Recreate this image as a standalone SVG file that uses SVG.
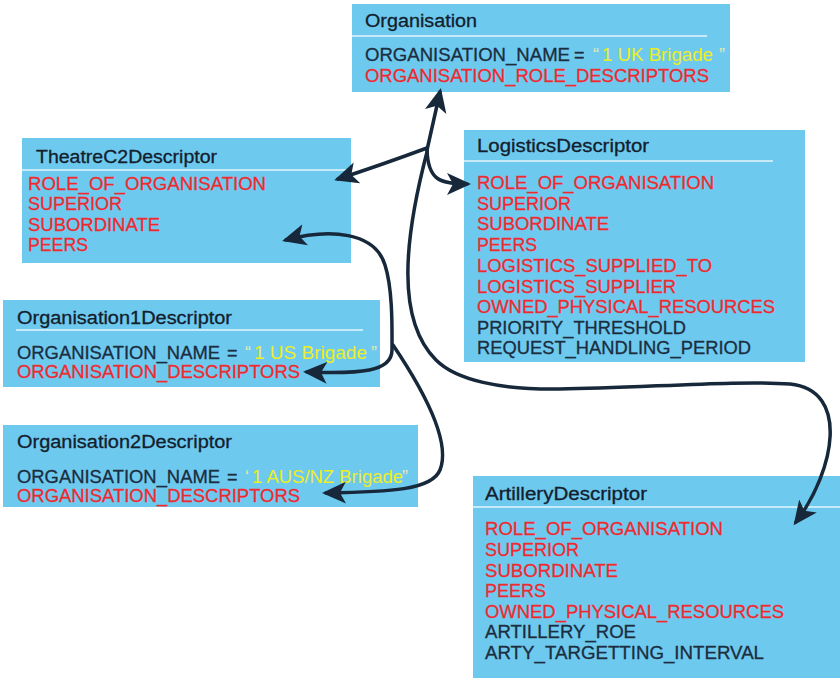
<svg xmlns="http://www.w3.org/2000/svg" width="840" height="678" viewBox="0 0 840 678">
<defs>
<style>
.box{fill:#6ec9ef}
.sep{stroke:#e6f5fc;stroke-width:1.5}
text{font-family:"Liberation Sans",Arial,sans-serif;font-size:18px}
.t{fill:#13202c;stroke:#13202c;stroke-width:0.3}
.d{fill:#1b2d3e;stroke:#1b2d3e;stroke-width:0.3}
.r{fill:#ee2a2f;stroke:#ee2a2f;stroke-width:0.3}
.y{fill:#eeee22}
.q{fill:#e4e8b4}
.c{fill:none;stroke:#16283a;stroke-width:3.5;stroke-linecap:round}
</style>
<marker id="ah" markerUnits="userSpaceOnUse" markerWidth="26" markerHeight="24" refX="20" refY="11" orient="auto-start-reverse" viewBox="0 0 26 24">
<path d="M0,0 L24,11 L0,22 L6,11 z" fill="#16283a"/>
</marker>
</defs>
<rect width="840" height="678" fill="#ffffff"/>

<g id="organisation">
<rect class="box" x="352" y="4" width="378" height="88"/>
<line class="sep" x1="352" y1="36" x2="707" y2="36"/>
<text class="t" x="365" y="27" textLength="112" lengthAdjust="spacingAndGlyphs">Organisation</text>
<text y="61"><tspan class="d" x="365" textLength="205" lengthAdjust="spacingAndGlyphs">ORGANISATION_NAME</tspan><tspan class="d" x="574">=</tspan><tspan class="q" x="593">“</tspan><tspan class="y" x="602" textLength="111" lengthAdjust="spacingAndGlyphs">1 UK Brigade</tspan><tspan class="q" x="719">”</tspan></text>
<text class="r" x="365" y="82" textLength="344" lengthAdjust="spacingAndGlyphs">ORGANISATION_ROLE_DESCRIPTORS</text>
</g>

<g id="theatre">
<rect class="box" x="22" y="138" width="329" height="125"/>
<line class="sep" x1="22" y1="170" x2="351" y2="170"/>
<text class="t" x="36" y="163" textLength="181" lengthAdjust="spacingAndGlyphs">TheatreC2Descriptor</text>
<text class="r" x="28" y="190" textLength="238" lengthAdjust="spacingAndGlyphs">ROLE_OF_ORGANISATION</text>
<text class="r" x="28" y="210" textLength="94" lengthAdjust="spacingAndGlyphs">SUPERIOR</text>
<text class="r" x="28" y="231" textLength="132" lengthAdjust="spacingAndGlyphs">SUBORDINATE</text>
<text class="r" x="28" y="251" textLength="60" lengthAdjust="spacingAndGlyphs">PEERS</text>
</g>

<g id="logistics">
<rect class="box" x="464" y="130" width="341" height="232"/>
<line class="sep" x1="464" y1="161" x2="773" y2="161"/>
<text class="t" x="477" y="152" textLength="172" lengthAdjust="spacingAndGlyphs">LogisticsDescriptor</text>
<text class="r" x="477" y="189" textLength="237" lengthAdjust="spacingAndGlyphs">ROLE_OF_ORGANISATION</text>
<text class="r" x="477" y="210" textLength="94" lengthAdjust="spacingAndGlyphs">SUPERIOR</text>
<text class="r" x="477" y="230" textLength="132" lengthAdjust="spacingAndGlyphs">SUBORDINATE</text>
<text class="r" x="477" y="251" textLength="60" lengthAdjust="spacingAndGlyphs">PEERS</text>
<text class="r" x="477" y="272" textLength="235" lengthAdjust="spacingAndGlyphs">LOGISTICS_SUPPLIED_TO</text>
<text class="r" x="477" y="293" textLength="199" lengthAdjust="spacingAndGlyphs">LOGISTICS_SUPPLIER</text>
<text class="r" x="477" y="313" textLength="298" lengthAdjust="spacingAndGlyphs">OWNED_PHYSICAL_RESOURCES</text>
<text class="d" x="477" y="334" textLength="209" lengthAdjust="spacingAndGlyphs">PRIORITY_THRESHOLD</text>
<text class="d" x="477" y="354" textLength="274" lengthAdjust="spacingAndGlyphs">REQUEST_HANDLING_PERIOD</text>
</g>

<g id="org1">
<rect class="box" x="3" y="300" width="377" height="87"/>
<line class="sep" x1="16" y1="330" x2="363" y2="330"/>
<text class="t" x="17" y="324" textLength="215" lengthAdjust="spacingAndGlyphs">Organisation1Descriptor</text>
<text y="359"><tspan class="d" x="17" textLength="203" lengthAdjust="spacingAndGlyphs">ORGANISATION_NAME</tspan><tspan class="d" x="227">=</tspan><tspan class="q" x="245">“</tspan><tspan class="y" x="254" textLength="113" lengthAdjust="spacingAndGlyphs">1 US Brigade</tspan><tspan class="q" x="371">”</tspan></text>
<text class="r" x="17" y="378" textLength="283" lengthAdjust="spacingAndGlyphs">ORGANISATION_DESCRIPTORS</text>
</g>

<g id="org2">
<rect class="box" x="3" y="425" width="415" height="82"/>
<text class="t" x="17" y="448" textLength="215" lengthAdjust="spacingAndGlyphs">Organisation2Descriptor</text>
<text y="483"><tspan class="d" x="17" textLength="203" lengthAdjust="spacingAndGlyphs">ORGANISATION_NAME</tspan><tspan class="d" x="227">=</tspan><tspan class="q" x="245">‘</tspan><tspan class="y" x="252" textLength="151" lengthAdjust="spacingAndGlyphs">1 AUS/NZ Brigade</tspan><tspan class="q" x="402">”</tspan></text>
<text class="r" x="17" y="502" textLength="283" lengthAdjust="spacingAndGlyphs">ORGANISATION_DESCRIPTORS</text>
</g>

<g id="artillery">
<rect class="box" x="473" y="476" width="367" height="202"/>
<line class="sep" x1="473" y1="507" x2="840" y2="507"/>
<text class="t" x="485" y="500" textLength="162" lengthAdjust="spacingAndGlyphs">ArtilleryDescriptor</text>
<text class="r" x="485" y="535" textLength="238" lengthAdjust="spacingAndGlyphs">ROLE_OF_ORGANISATION</text>
<text class="r" x="485" y="556" textLength="94" lengthAdjust="spacingAndGlyphs">SUPERIOR</text>
<text class="r" x="485" y="577" textLength="133" lengthAdjust="spacingAndGlyphs">SUBORDINATE</text>
<text class="r" x="485" y="597" textLength="61" lengthAdjust="spacingAndGlyphs">PEERS</text>
<text class="r" x="485" y="618" textLength="299" lengthAdjust="spacingAndGlyphs">OWNED_PHYSICAL_RESOURCES</text>
<text class="d" x="485" y="638" textLength="151" lengthAdjust="spacingAndGlyphs">ARTILLERY_ROE</text>
<text class="d" x="485" y="659" textLength="279" lengthAdjust="spacingAndGlyphs">ARTY_TARGETTING_INTERVAL</text>
</g>

<g id="connectors">
<path class="c" d="M427 150 L440 92" marker-end="url(#ah)"/>
<path class="c" d="M427 148 C400 158 372 168 338 179" marker-end="url(#ah)"/>
<path class="c" d="M427 150 C428 180 440 184 467 184" marker-end="url(#ah)"/>
<path class="c" d="M427 152 C404 240 396 320 436 360 C456 380 500 390 560 389 C640 388 740 380 790 384 C850 390 835 470 796 522" marker-end="url(#ah)"/>
<path class="c" d="M286 240 C330 228 375 232 385 265 C393 290 392 330 392 350 C392 372 360 374 307 372" marker-start="url(#ah)" marker-end="url(#ah)"/>
<path class="c" d="M393 345 C420 385 452 440 440 470 C432 490 390 492 326 493" marker-end="url(#ah)"/>
</g>
</svg>
